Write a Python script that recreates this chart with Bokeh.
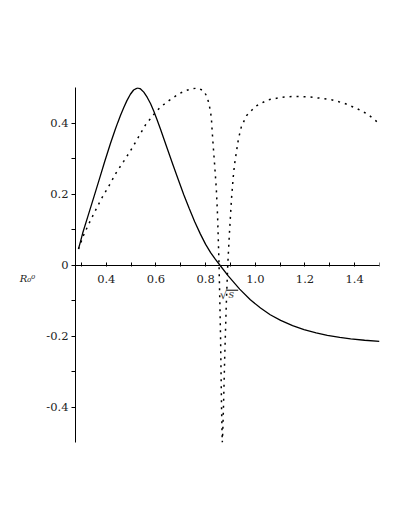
from bokeh.plotting import figure
from bokeh.models import Range1d, LinearAxis, FixedTicker, Label, NumeralTickFormatter
from bokeh.embed import file_html
from bokeh.resources import INLINE

# ---- data ----
solid_x = [0.288, 0.296, 0.305, 0.328, 0.352, 0.373, 0.393, 0.417, 0.437, 0.446,
           0.457, 0.470, 0.483, 0.497, 0.510, 0.526, 0.538, 0.551, 0.565, 0.578,
           0.591, 0.604, 0.618, 0.632, 0.645, 0.669, 0.690, 0.712, 0.734, 0.756,
           0.779, 0.800, 0.820, 0.838, 0.857, 0.890, 0.937, 0.980, 1.021, 1.060,
           1.102, 1.150, 1.196, 1.245, 1.290, 1.340, 1.384, 1.440, 1.500]
solid_y = [0.045, 0.066, 0.090, 0.142, 0.196, 0.244, 0.290, 0.343, 0.384, 0.401,
           0.421, 0.443, 0.463, 0.481, 0.493, 0.499, 0.496, 0.487, 0.472, 0.455,
           0.434, 0.410, 0.383, 0.355, 0.329, 0.281, 0.240, 0.198, 0.159, 0.122,
           0.087, 0.058, 0.035, 0.017, 0.000, -0.030, -0.068, -0.098, -0.121, -0.140,
           -0.156, -0.171, -0.182, -0.191, -0.198, -0.204, -0.208, -0.212, -0.215]

dotted_x = [0.288, 0.308, 0.329, 0.355, 0.383, 0.410, 0.440, 0.470, 0.494, 0.527,
            0.558, 0.591, 0.618, 0.652, 0.692, 0.719, 0.746, 0.768, 0.793, 0.806,
            0.813, 0.819, 0.823, 0.826, 0.830, 0.836, 0.843, 0.848, 0.851, 0.854,
            0.857, 0.860, 0.862, 0.864, 0.866, 0.867, 0.869, 0.872, 0.877, 0.883,
            0.889, 0.896, 0.904, 0.911, 0.916, 0.924, 0.932, 0.944, 0.965, 1.001,
            1.050, 1.102, 1.155, 1.209, 1.260, 1.310, 1.360, 1.408, 1.454, 1.498]
dotted_y = [0.045, 0.083, 0.115, 0.152, 0.190, 0.222, 0.260, 0.292, 0.318, 0.357,
            0.395, 0.424, 0.445, 0.463, 0.482, 0.491, 0.497, 0.499, 0.490, 0.473,
            0.455, 0.434, 0.415, 0.380, 0.340, 0.284, 0.214, 0.139, 0.070, 0.000,
            -0.100, -0.200, -0.300, -0.400, -0.470, -0.500, -0.470, -0.395, -0.254, -0.114,
            0.000, 0.092, 0.186, 0.247, 0.282, 0.319, 0.355, 0.390, 0.421, 0.447,
            0.465, 0.472, 0.475, 0.474, 0.470, 0.465, 0.455, 0.441, 0.424, 0.399]

x_ticks = [0.4, 0.6, 0.8, 1.0, 1.2, 1.4]
x_tick_labels = ["0.4", "0.6", "0.8", "1.0", "1.2", "1.4"]
x_minor = [0.3, 0.5, 0.7, 0.9, 1.1, 1.3, 1.5]
y_ticks = [-0.4, -0.2, 0.0, 0.2, 0.4]
y_tick_labels = ["-0.4", "-0.2", "0", "0.2", "0.4"]
y_minor = [-0.3, -0.1, 0.1, 0.3]

FONT = "DejaVu Serif"

p = figure(width=401, height=521,
           x_range=Range1d(0.276, 1.5), y_range=Range1d(-0.5, 0.5),
           output_backend="svg", toolbar_location=None,
           x_axis_location=None, y_axis_location=None,
           min_border_left=75, min_border_right=22,
           min_border_top=87, min_border_bottom=79)
p.outline_line_color = None
p.background_fill_color = "white"
p.border_fill_color = "white"
p.xgrid.visible = False
p.ygrid.visible = False

xaxis = LinearAxis(fixed_location=0,
                   ticker=FixedTicker(ticks=x_ticks, minor_ticks=x_minor),
                   formatter=NumeralTickFormatter(format="0.0"))
xaxis.major_label_overrides = dict(zip(x_ticks, x_tick_labels))
xaxis.major_tick_in = 3
xaxis.major_tick_out = 1
xaxis.minor_tick_in = 3
xaxis.minor_tick_out = 1
xaxis.major_label_standoff = 9
xaxis.major_label_text_font = FONT
xaxis.major_label_text_font_size = "11.5px"
xaxis.major_label_text_color = "#222222"
p.add_layout(xaxis, "below")

yaxis = LinearAxis(ticker=FixedTicker(ticks=y_ticks, minor_ticks=y_minor),
                   formatter=NumeralTickFormatter(format="0.[0]"))
yaxis.major_label_overrides = dict(zip(y_ticks, y_tick_labels))
yaxis.major_tick_in = 0
yaxis.major_tick_out = 4
yaxis.minor_tick_in = 0
yaxis.minor_tick_out = 4
yaxis.major_label_standoff = 3
yaxis.major_label_text_font = FONT
yaxis.major_label_text_font_size = "11.5px"
yaxis.major_label_text_color = "#222222"
yaxis.axis_label = "\n\nR₀⁰"
yaxis.axis_label_orientation = "horizontal"
yaxis.axis_label_standoff = 8
yaxis.axis_label_text_font = FONT
yaxis.axis_label_text_font_style = "italic"
yaxis.axis_label_text_font_size = "10px"
yaxis.axis_label_text_color = "#222222"
p.add_layout(yaxis, "left")

p.line(solid_x, solid_y, line_color="black", line_width=1.3)
p.line(dotted_x, dotted_y, line_color="black", line_width=1.5,
       line_dash="2 5")

# x label  sqrt(s)
p.add_layout(Label(x=0.872, y=-0.085, text="√", text_font=FONT,
                   text_font_size="12px", text_align="center", text_baseline="middle"))
p.add_layout(Label(x=0.903, y=-0.083, text="s", text_font=FONT, text_font_style="italic",
                   text_font_size="11px", text_align="center", text_baseline="middle"))
p.line([0.883, 0.931], [-0.071, -0.071], line_color="black", line_width=1)

open("out.html", "w").write(file_html(p, INLINE))
